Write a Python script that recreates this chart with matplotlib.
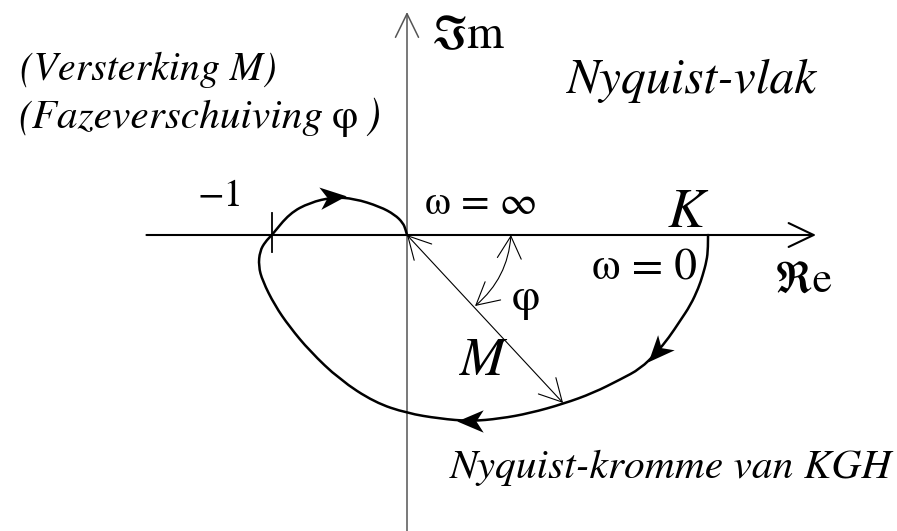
import numpy as np
import matplotlib
matplotlib.use("Agg")
import matplotlib.pyplot as plt
from matplotlib.patches import FancyArrowPatch, PathPatch
from matplotlib.path import Path
from matplotlib.markers import MarkerStyle
from matplotlib.transforms import Affine2D

# ---------------- data (complex-plane units, -1 tick at Re = -1) ----------------
K = 2.23
curve_re = [2.23, 2.23, 2.22, 2.19, 2.16, 2.10, 2.02, 1.94, 1.85, 1.73, 1.58, 1.38,
            1.16, 0.91, 0.69, 0.47, 0.24, 0.00, -0.24, -0.50, -0.72, -0.87, -0.98,
            -1.07, -1.10, -1.09, -1.05, -1.00, -0.87, -0.72, -0.55, -0.39, -0.20,
            -0.09, -0.03, -0.01, 0.00]
curve_im = [0.00, -0.10, -0.19, -0.30, -0.39, -0.52, -0.64, -0.76, -0.87, -0.99,
            -1.07, -1.17, -1.25, -1.32, -1.36, -1.38, -1.36, -1.32, -1.24, -1.07,
            -0.86, -0.68, -0.52, -0.34, -0.23, -0.12, -0.05, 0.00, 0.16, 0.24,
            0.28, 0.27, 0.21, 0.15, 0.09, 0.04, 0.00]
arrow_idx = [8, 15, 30]          # direction arrows along the Nyquist curve
M_point = (1.156, -1.244)        # tip of the M vector
phi_start = (0.504, -0.526)      # phi arc end on the M vector
phi_end = (0.77, 0.0)            # phi arc end on the real axis
tick_re = -1.0

# ---------------- figure ----------------
W, H, DPI = 897, 531, 100
OX, OY, S = 407, 235, 135.0      # origin in pixels, pixels per unit
fig = plt.figure(figsize=(W / DPI, H / DPI), dpi=DPI)
ax = fig.add_axes([0, 0, 1, 1])
ax.set_xlim(-OX / S, (W - OX) / S)
ax.set_ylim(-(H - OY) / S, OY / S)
ax.axis("off")

# axes
ax.add_patch(FancyArrowPatch((-1.93, 0), (3.03, 0), arrowstyle="->,head_length=18,head_width=8.6",
                             mutation_scale=1, lw=1.5, color="black", shrinkA=0, shrinkB=0))
ax.add_patch(FancyArrowPatch((0, -2.3), (0, 1.652), arrowstyle="->,head_length=17,head_width=8.3",
                             mutation_scale=1, lw=1.1, color="#555555", shrinkA=0, shrinkB=0))
ax.plot([tick_re, tick_re], [0.163, -0.126], color="black", lw=1.3)

# Nyquist curve (smooth quadratic chain through midpoints)
pts = np.column_stack([curve_re, curve_im])
verts = [pts[0]]
codes = [Path.MOVETO]
for i in range(1, len(pts) - 1):
    mid = (pts[i] + pts[i + 1]) / 2
    verts += [pts[i], mid if i < len(pts) - 2 else pts[i + 1]]
    codes += [Path.CURVE3, Path.CURVE3]
ax.add_patch(PathPatch(Path(verts, codes), fill=False, lw=1.8, ec="black", capstyle="round"))

# stealth arrowheads on the curve
stealth = Path([(1, 0), (-1, 0.85), (-0.45, 0), (-1, -0.85), (1, 0)],
               [Path.MOVETO, Path.LINETO, Path.LINETO, Path.LINETO, Path.CLOSEPOLY])
for i in arrow_idx:
    d = pts[i + 1] - pts[i - 1]
    ang = np.degrees(np.arctan2(d[1], d[0]))
    m = MarkerStyle(stealth, transform=Affine2D().rotate_deg(ang))
    ax.plot(pts[i][0], pts[i][1], marker=m, ms=19, color="black", mew=0)

# M vector and phi arc
ax.add_patch(FancyArrowPatch((0, 0), M_point, arrowstyle="<->,head_length=16,head_width=8.6",
                             mutation_scale=1, lw=0.8, color="black", shrinkA=0, shrinkB=0))
ax.add_patch(FancyArrowPatch(phi_start, phi_end, arrowstyle="<->,head_length=16,head_width=8.6",
                             connectionstyle="arc3,rad=0.21",
                             mutation_scale=1, lw=0.8, color="black", shrinkA=0, shrinkB=0))

# ---------------- texts ----------------
FAM = ["STIXGeneral", "DejaVu Serif"]
# (text, left px, baseline px, target width px, style)
labels = [
    ("(Versterking M)", 20, 80, 257, "italic"),
    ("(Fazeverschuiving", 18, 128, 305, "italic"),
    ("φ", 332, 128, 26, "normal"),
    (")", 365, 128, 15, "italic"),
    ("Nyquist-vlak", 567, 93, 250, "italic"),
    ("ℑm", 432, 48, 73, "normal"),
    ("ℜe", 775, 292, 58, "normal"),
    ("−1", 197, 206, 46, "normal"),
    ("ω = ∞", 425, 214, 113, "normal"),
    ("K", 668, 227, 37, "italic"),
    ("ω = 0", 592, 279, 105, "normal"),
    ("φ", 512, 310, 28, "normal"),
    ("M", 460, 375, 45, "italic"),
    ("Nyquist-kromme van KGH", 450, 478, 442, "italic"),
]
texts = []
for s, x, y, w, st in labels:
    t = fig.text(x / W, 1 - y / H, s, fontsize=28, family=FAM, style=st,
                 ha="left", va="baseline", color="black")
    texts.append((t, w))

for _ in range(3):
    fig.canvas.draw()
    r = fig.canvas.get_renderer()
    for t, w in texts:
        bw = t.get_window_extent(r).width
        if bw > 0:
            t.set_fontsize(t.get_fontsize() * w / bw)

fig.savefig("out.png", dpi=DPI)
